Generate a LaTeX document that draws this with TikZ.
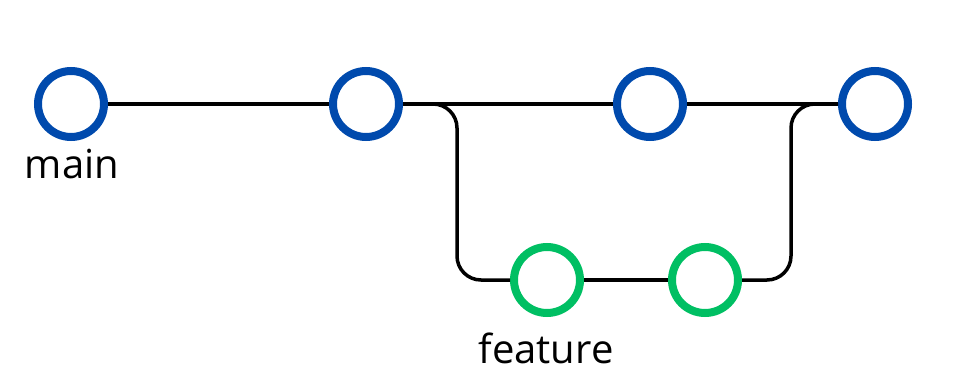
\documentclass[tikz,border=0pt]{standalone}
\usepackage{fontspec}
\setmainfont{Open Sans}
\definecolor{mainblue}{HTML}{004AAD}
\definecolor{featgreen}{HTML}{00BF63}
\tikzset{
  commit/.style={circle,draw,line width=8pt,minimum size=66pt,inner sep=0pt},
  branch/.style={line width=3.5pt,rounded corners=24pt},
  lbl/.style={font=\fontsize{40}{42}\selectfont,anchor=base,inner sep=0pt}
}
\begin{document}
\begin{tikzpicture}[x=1pt,y=-1pt]
		\useasboundingbox (0,0) rectangle (977,391);
		
		\node[commit,mainblue] (c1) at (71,104) {};
		\node[commit,mainblue] (c2) at (366,104) {};
		\node[commit,mainblue] (c3) at (650,104) {};
		\node[commit,mainblue] (c4) at (875,104) {};
		\node[commit,featgreen] (g1) at (547,280) {};
		\node[commit,featgreen] (g2) at (705,280) {};
		
		\draw[branch] (c1) -- (c2);
		\draw[branch] (c2) -- (c3);
		\draw[branch] (c3) -- (c4);
		\draw[branch] (c2.east) -- ++(54,0) |- (g1);
		\draw[branch] (g1) -- (g2);
		\draw[branch] (g2.east) -- ++(49,0) |- (c4);
		
		\node[lbl] (mainlbl) at (72,178) {main};
		\node[lbl] (featlbl) at (546,363) {feature};
	\end{tikzpicture}
\end{document}
